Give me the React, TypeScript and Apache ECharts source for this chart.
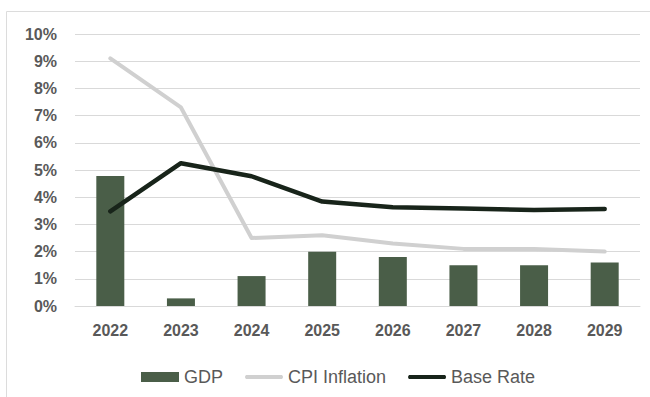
import React, { useEffect, useRef } from "react";
import * as echarts from "echarts";

const years = ["2022", "2023", "2024", "2025", "2026", "2027", "2028", "2029"];
const gdp = [4.78, 0.28, 1.1, 1.99, 1.8, 1.5, 1.5, 1.6];
const cpi = [9.1, 7.3, 2.5, 2.6, 2.3, 2.1, 2.1, 2.0];
const baseRate = [3.48, 5.25, 4.77, 3.84, 3.63, 3.58, 3.53, 3.57];

const lineIcon = "path://M2,0 L36,0 Q38,2 36,4 L2,4 Q0,2 2,0 Z";

export default function App() {
  const ref = useRef<HTMLDivElement>(null);
  useEffect(() => {
    if (!ref.current) return;
    const chart = echarts.init(ref.current, null, { renderer: "svg" });
    const labelColor = "#595959";
    const font = "Liberation Sans, Arial, sans-serif";
    chart.setOption({
      animation: false,
      backgroundColor: "#ffffff",
      graphic: [
        {
          type: "rect",
          shape: { x: 6.5, y: 11.5, width: 700, height: 420 },
          style: { fill: "none", stroke: "#dcdcdc", lineWidth: 1 },
          silent: true,
        },
      ],
      grid: { left: 75, right: 10, top: 34, bottom: 91 },
      legend: {
        left: 136,
        top: 363,
        itemGap: 22,
        itemWidth: 38,
        itemHeight: 10,
        textStyle: { color: labelColor, fontSize: 18, fontFamily: font },
        data: [
          { name: "GDP", icon: "rect" },
          { name: "CPI Inflation", icon: lineIcon },
          { name: "Base Rate", icon: lineIcon },
        ],
      },
      xAxis: {
        type: "category",
        data: years,
        axisLine: { show: true, lineStyle: { color: "#d9d9d9", width: 1 } },
        axisTick: { show: false },
        axisLabel: {
          color: labelColor,
          fontSize: 16,
          fontWeight: "bold",
          margin: 16,
          fontFamily: font,
        },
      },
      yAxis: {
        type: "value",
        min: 0,
        max: 10,
        interval: 1,
        axisLabel: {
          formatter: "{value}%",
          color: labelColor,
          fontSize: 16,
          fontWeight: "bold",
          margin: 18,
          fontFamily: font,
        },
        axisLine: { show: false },
        axisTick: { show: false },
        splitLine: { lineStyle: { color: "#d9d9d9", width: 1 } },
      },
      series: [
        {
          name: "GDP",
          type: "bar",
          data: gdp,
          barWidth: 28,
          itemStyle: { color: "#4a5e48" },
        },
        {
          name: "CPI Inflation",
          type: "line",
          data: cpi,
          symbol: "none",
          lineStyle: { color: "#d0d0d0", width: 4, join: "round", cap: "round" },
          itemStyle: { color: "#d0d0d0" },
        },
        {
          name: "Base Rate",
          type: "line",
          data: baseRate,
          symbol: "none",
          lineStyle: { color: "#18241a", width: 4.5, join: "round", cap: "round" },
          itemStyle: { color: "#18241a" },
        },
      ],
    });
    return () => chart.dispose();
  }, []);
  return (
    <div
      ref={ref}
      style={{ position: "fixed", left: 0, top: 0, width: 650, height: 397 }}
    />
  );
}
